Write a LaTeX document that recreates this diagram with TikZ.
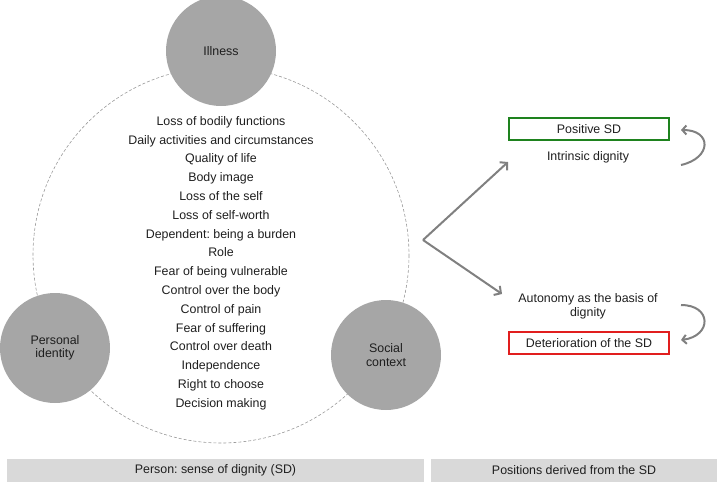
\documentclass[tikz,border=0pt]{standalone}
\usepackage{fontspec}
\setmainfont{Liberation Sans}
\frenchspacing
\usepackage{tikz}
\usetikzlibrary{arrows.meta}
\definecolor{topicgray}{RGB}{166,166,166}
\definecolor{bargray}{RGB}{217,217,217}
\definecolor{arrowgray}{RGB}{128,128,128}
\definecolor{boxgreen}{RGB}{30,130,30}
\definecolor{boxred}{RGB}{225,30,30}
\definecolor{inkgray}{RGB}{30,30,30}

\begin{document}
\begin{tikzpicture}[x=1pt, y=-1pt, font=\fontsize{12.4}{13.5}\selectfont, text=inkgray,
  topic/.style={circle, fill=topicgray, minimum size=110pt, inner sep=0pt, align=center},
  bar/.style={fill=bargray, minimum height=23pt, inner sep=0pt},
  sdbox/.style={draw, line width=2pt, minimum width=160pt, minimum height=22pt, inner sep=0pt},
  flow/.style={draw=arrowgray, line width=2pt, -{Straight Barb[length=5pt,width=11pt]}},
  turn/.style={draw=arrowgray, line width=2pt, -{Straight Barb[length=4pt,width=9pt]}}]
\useasboundingbox (0,0) rectangle (717,482);
%%%%% Ring %%%%%
\draw[dash pattern=on 3pt off 2pt, color=arrowgray!80, line width=0.6pt] (221,255) circle[radius=188];
\node[topic] (illness) at (221,51) {Illness};
\node[topic] (personal) at (55,348) {Personal\\identity};
\node[topic] (social) at (386,355) {Social\\context};
%%%%% Items %%%%%
\foreach \txt [count=\k] in {Loss of bodily functions, Daily activities and circumstances,
  Quality of life, Body image, Loss of the self, Loss of self-worth,
  Dependent: being a burden, Role, Fear of being vulnerable, Control over the body,
  Control of pain, Fear of suffering, Control over death, Independence,
  Right to choose, Decision making}{
\node[anchor=base] (item\k) at (221,106.5+18.8*\k) {\txt};
}
%%%%% Positions %%%%%
\node[sdbox, draw=boxgreen] (positive) at (589,129) {Positive SD};
\node (intrinsic) at (588,157) {Intrinsic dignity};
\node[align=center] (autonomy) at (588,306.5) {Autonomy as the basis of\\dignity};
\node[sdbox, draw=boxred] (deterioration) at (589,343) {Deterioration of the SD};
\coordinate (fork) at (423,240);
\coordinate (upend) at (508,162);
\coordinate (downend) at (502,294);
\draw[flow] (fork) -- (upend);
\draw[flow] (fork) -- (downend);
\coordinate (upfrom) at (681,165);
\coordinate (upto) at (681,130);
\coordinate (downfrom) at (681,305);
\coordinate (downto) at (681,340);
\draw[turn] (upfrom) .. controls (712,158) and (712,130) .. (upto);
\draw[turn] (downfrom) .. controls (712,305) and (712,336) .. (downto);
%%%%% Bars %%%%%
\node[bar, minimum width=417pt] (personbar) at (215.5,470.5) {Person: sense of dignity (SD)};
\node[bar, minimum width=286pt] (positionbar) at (574,470.5) {Positions derived from the SD};
\end{tikzpicture}
\end{document}
